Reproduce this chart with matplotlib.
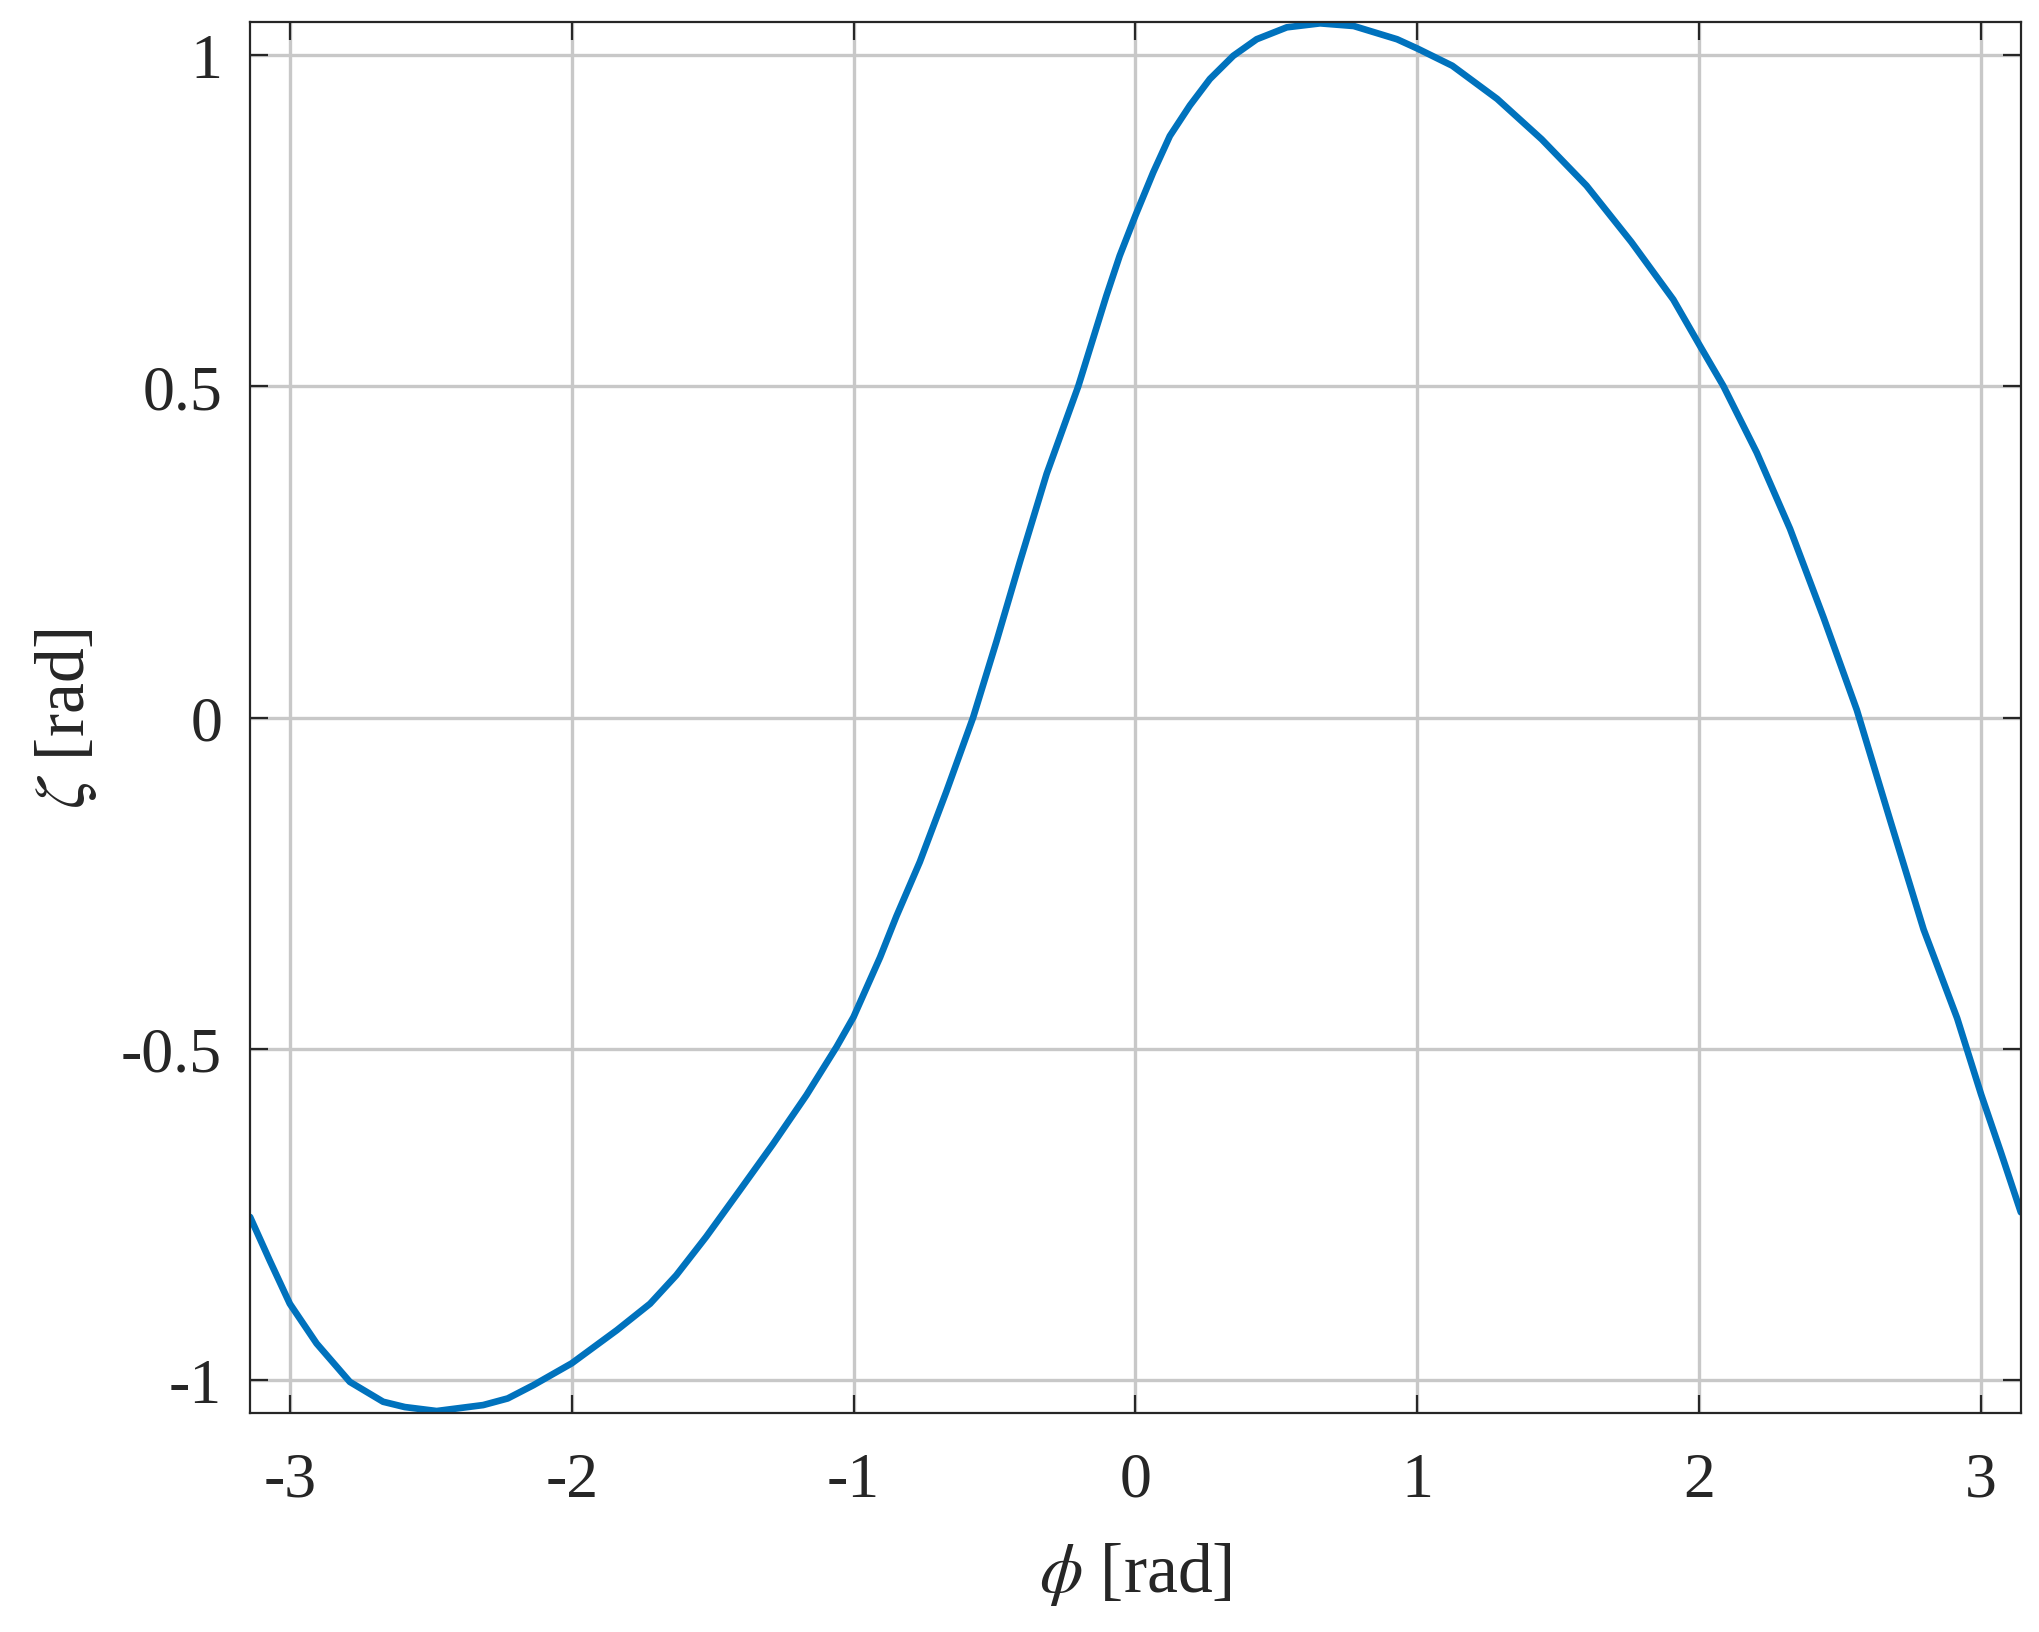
import matplotlib
matplotlib.use("Agg")
import matplotlib.pyplot as plt

# curve (phi in rad, zeta in rad)
phi = [-3.141, -3.071, -3.0, -2.905, -2.787, -2.669, -2.592, -2.479, -2.314,
       -2.227, -2.136, -2.0, -1.840, -1.722, -1.629, -1.523, -1.404, -1.286,
       -1.167, -1.060, -1.0, -0.906, -0.848, -0.765, -0.671, -0.576, -0.493,
       -0.410, -0.315, -0.203, -0.103, -0.056, 0.0, 0.063, 0.122, 0.193,
       0.264, 0.347, 0.430, 0.537, 0.655, 0.774, 0.928, 1.0, 1.124, 1.283,
       1.441, 1.6, 1.759, 1.908, 2.0, 2.085, 2.204, 2.322, 2.441, 2.559,
       2.678, 2.796, 2.915, 3.0, 3.069, 3.141]
zeta = [-0.754, -0.820, -0.885, -0.945, -1.003, -1.033, -1.041, -1.047, -1.038,
        -1.028, -1.008, -0.975, -0.925, -0.885, -0.842, -0.784, -0.714, -0.644,
        -0.570, -0.497, -0.452, -0.362, -0.300, -0.218, -0.112, 0.0, 0.115,
        0.235, 0.368, 0.5, 0.637, 0.697, 0.758, 0.823, 0.878, 0.924,
        0.964, 0.999, 1.024, 1.042, 1.048, 1.044, 1.024, 1.010, 0.984, 0.934,
        0.873, 0.803, 0.718, 0.631, 0.563, 0.501, 0.400, 0.285, 0.151, 0.0115,
        -0.156, -0.320, -0.454, -0.569, -0.655, -0.747]

xticks = [-3, -2, -1, 0, 1, 2, 3]
xtick_labels = ['-3', '-2', '-1', '0', '1', '2', '3']
yticks = [-1, -0.5, 0, 0.5, 1]
ytick_labels = ['-1', '-0.5', '0', '0.5', '1']

plt.rcParams['font.family'] = ['Liberation Serif', 'DejaVu Serif']
plt.rcParams['mathtext.fontset'] = 'stix'

axis_col = '#262626'

fig = plt.figure(figsize=(10.2, 8.165), dpi=200)
ax = fig.add_axes([0.1225, 0.1341, 0.9907 - 0.1225, 0.9859 - 0.1341])

ax.plot(phi, zeta, color='#0072BD', lw=2.4,
        solid_joinstyle='round', solid_capstyle='round')

ax.set_xlim(-3.14159, 3.14159)
ax.set_ylim(-1.05, 1.05)
ax.set_xticks(xticks)
ax.set_xticklabels(xtick_labels)
ax.set_yticks(yticks)
ax.set_yticklabels(ytick_labels)

ax.grid(True, color='#c8c8c8', lw=1.2)
ax.set_axisbelow(True)
for s in ax.spines.values():
    s.set_color(axis_col)
    s.set_linewidth(0.8)

ax.tick_params(direction='in', length=6.5, width=0.8, color=axis_col,
               labelcolor=axis_col, labelsize=23, top=True, right=True)
ax.tick_params(axis='x', pad=14)
ax.tick_params(axis='y', pad=10)

ax.set_xlabel(r'$\phi$ [rad]', fontsize=25, color=axis_col, labelpad=11)
ax.set_ylabel(r'$\zeta$ [rad]', fontsize=25, color=axis_col, labelpad=8)

fig.savefig('out.png', dpi=200, facecolor='white')
